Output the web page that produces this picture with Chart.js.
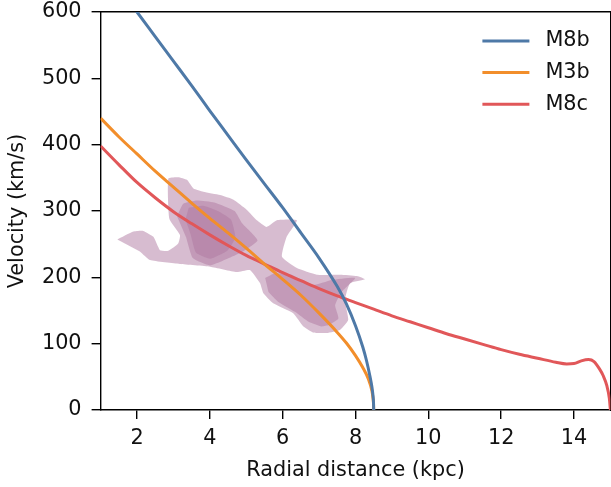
<!DOCTYPE html>
<html>
<head>
<meta charset="utf-8">
<style>
html,body{margin:0;padding:0;background:#fff;}
#wrap{width:611px;height:487px;position:relative;}
canvas{display:block;}
</style>
<script src="https://cdn.jsdelivr.net/npm/chart.js@4/dist/chart.umd.min.js"></script>
</head>
<body>
<div id="wrap"><canvas id="c" width="611" height="487"></canvas></div>
<script>
// ---- Data ----
const xTicks = [2, 4, 6, 8, 10, 12, 14];
const yTicks = [0, 100, 200, 300, 400, 500, 600];

const m8bX = [1.96, 2.0, 2.5, 3.0, 3.5, 4.0, 4.5, 5.0, 5.5, 6.0, 6.5, 7.0, 7.5, 7.75, 8.0, 8.2, 8.3, 8.4, 8.45, 8.48, 8.495, 8.5];
const m8bV = [603, 600, 563, 526, 489, 451, 414, 377, 341, 305, 267, 229, 186, 160, 127, 95, 75, 50, 35, 22, 11, 0];

const m3bX = [1.0, 1.5, 2.0, 2.5, 3.0, 3.5, 4.0, 4.5, 5.0, 5.5, 6.0, 6.5, 7.0, 7.5, 7.75, 8.0, 8.2, 8.35, 8.45, 8.48, 8.495, 8.5];
const m3bV = [440, 412, 386, 360, 336, 312, 289, 267, 244, 220, 197, 173, 146, 117, 101, 82, 64, 47, 29, 18, 9, 0];

const m8cX = [1.0, 1.5, 2.0, 2.5, 3.0, 3.5, 4.0, 4.5, 5.0, 5.5, 6.0, 6.5, 7.0, 7.5, 8.0, 8.5, 9.0, 9.5, 10.0, 10.5, 11.0, 11.5, 12.0, 12.5, 13.0, 13.5, 13.8, 14.0, 14.2, 14.4, 14.55, 14.7, 14.8, 14.9, 14.97, 15.0];
const m8cV = [398, 370, 343, 320, 299, 281, 264, 248, 233, 220, 207, 195, 183, 172, 162, 152, 142, 133, 124, 115, 107, 99, 91, 84, 78, 72, 69.5, 70, 74, 76, 73, 62, 52, 37, 18, 0];

// density contours (outer, middle, inner levels)
const kdeOuterX = [1.46,1.90,2.17,2.45,2.63,2.86,3.13,3.18,2.89,2.86,3.13,3.37,3.55,3.82,4.28,4.65,5.01,5.29,5.56,5.84,6.39,6.11,5.98,6.39,6.94,7.58,8.04,8.26,7.85,7.71,7.80,7.58,7.21,6.84,6.57,6.29,5.74,5.47,5.38,5.10,4.74,4.01,3.18,2.36,2.08];
const kdeOuterV = [257,269,270,261,241,240,251,264,288,349,351,347,334,329,324,317,302,286,276,286,286,261,231,214,204,204,202,197,191,166,136,121,116,117,126,146,161,176,191,211,208,216,220,226,239];

const kdeMidUpX = [3.10,3.27,3.64,4.12,4.68,4.88,5.31,4.94,4.65,4.01,3.53,3.35];
const kdeMidUpV = [292,311,316,313,300,282,256,240,232,218,229,260];

const kdeMidLoX = [5.52,5.79,6.25,6.80,7.35,7.99,7.62,7.44,7.53,7.26,7.07,6.71,6.34,5.88,5.61];
const kdeMidLoV = [199,206,204,188,196,199,178,158,138,128,126,133,148,163,178];

const kdeInnerX = [3.42,3.82,4.22,4.58,4.70,4.48,4.01,3.62,3.47,3.33];
const kdeInnerV = [305,308,300,287,260,240,228,237,265,287];

const seriesLabels = ['M8b', 'M3b', 'M8c'];
const seriesColors = ['#4E79A7', '#F28E2B', '#E15759'];

// ---- Build chart ----
const zip = (xs, vs) => xs.map((x, i) => ({x: x, y: vs[i]}));
const FONT = 'DejaVu Sans';
const TXT = '#111';
const kdeColor = 'rgba(176,122,161,0.5)';

function curve(i, xs, vs) {
  return {
    label: seriesLabels[i], data: zip(xs, vs), inLegend: true,
    borderColor: seriesColors[i], backgroundColor: seriesColors[i],
    borderWidth: 3, pointRadius: 0, fill: false,
    cubicInterpolationMode: 'monotone', xAxisID: 'x', yAxisID: 'y'
  };
}
function contour(label, xs, vs) {
  return {
    label: label, data: zip(xs, vs), inLegend: false,
    borderWidth: 0, borderColor: 'rgba(0,0,0,0)', backgroundColor: kdeColor,
    pointRadius: 0, fill: 'shape', tension: 0.15, xAxisID: 'x', yAxisID: 'y'
  };
}

const legendPlugin = {
  id: 'lineLegend',
  afterDraw(chart) {
    const ctx = chart.ctx, a = chart.chartArea;
    const items = chart.data.datasets.filter(d => d.inLegend);
    ctx.save();
    items.forEach((d, i) => {
      const y = a.top + 29 + i * 31.6;
      ctx.strokeStyle = d.borderColor; ctx.lineWidth = 3; ctx.lineCap = 'butt';
      ctx.beginPath(); ctx.moveTo(a.right - 128, y); ctx.lineTo(a.right - 81, y); ctx.stroke();
      ctx.fillStyle = TXT; ctx.font = '20.8px "' + FONT + '"';
      ctx.textBaseline = 'middle'; ctx.textAlign = 'left';
      ctx.fillText(d.label, a.right - 65, y);
    });
    ctx.restore();
  }
};

const tickFont = {family: FONT, size: 20.8};
const noPad = s => { s.paddingTop = 0; s.paddingBottom = 0; s.paddingLeft = 0; s.paddingRight = 0; };

new Chart(document.getElementById('c'), {
  type: 'line',
  data: {
    datasets: [
      curve(0, m8bX, m8bV),
      curve(1, m3bX, m3bV),
      curve(2, m8cX, m8cV),
      contour('kde inner', kdeInnerX, kdeInnerV),
      contour('kde mid upper', kdeMidUpX, kdeMidUpV),
      contour('kde mid lower', kdeMidLoX, kdeMidLoV),
      contour('kde outer', kdeOuterX, kdeOuterV)
    ]
  },
  options: {
    responsive: false,
    devicePixelRatio: 1,
    animation: false,
    layout: {padding: 0},
    plugins: {legend: {display: false}, tooltip: {enabled: false}},
    scales: {
      x: {
        type: 'linear', position: 'bottom', min: 1, max: 15,
        afterBuildTicks: s => { s.ticks = xTicks.map(v => ({value: v})); },
        afterFit: s => { s.height = 77; noPad(s); },
        ticks: {color: TXT, font: tickFont, padding: 7.5, maxRotation: 0, autoSkip: false},
        grid: {display: true, drawOnChartArea: false, drawTicks: true, tickLength: 9, lineWidth: 1.4, tickWidth: 1.4, tickColor: '#000', color: '#000'},
        border: {display: true, color: '#000', width: 1.4},
        title: {display: true, text: 'Radial distance (kpc)', color: TXT, font: tickFont, padding: {top: 0, bottom: 3.5}}
      },
      y: {
        type: 'linear', position: 'left', min: 0, max: 600,
        afterBuildTicks: s => { s.ticks = yTicks.map(v => ({value: v})); },
        afterFit: s => { s.width = 100.6; noPad(s); },
        ticks: {color: TXT, font: tickFont, padding: 10},
        grid: {display: true, drawOnChartArea: false, drawTicks: true, tickLength: 9, lineWidth: 1.4, tickWidth: 1.4, tickColor: '#000', color: '#000'},
        border: {display: true, color: '#000', width: 1.4},
        title: {display: true, text: 'Velocity (km/s)', color: TXT, font: tickFont, padding: {top: 5, bottom: 0}}
      },
      x2: {
        type: 'linear', position: 'top', min: 1, max: 15, display: true,
        ticks: {display: false}, grid: {display: false, drawTicks: false},
        border: {display: true, color: '#000', width: 1.4},
        afterFit: s => { s.height = 12; noPad(s); }
      },
      y2: {
        type: 'linear', position: 'right', min: 0, max: 600, display: true,
        ticks: {display: false}, grid: {display: false, drawTicks: false},
        border: {display: true, color: '#000', width: 1.4},
        afterFit: s => { s.width = 0.6; noPad(s); }
      }
    }
  },
  plugins: [legendPlugin]
});
</script>
</body>
</html>
